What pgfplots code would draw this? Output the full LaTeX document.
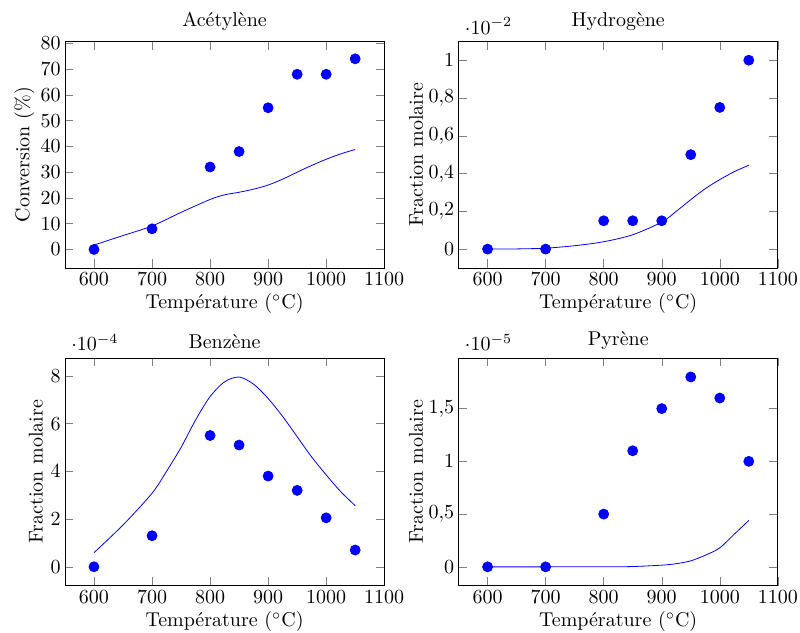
\documentclass[border=0pt]{standalone}
\usepackage{pgfplots}
\pgfplotsset{compat=1.18}
\usepgfplotslibrary{groupplots}
\begin{document}
\begin{tikzpicture}
\begin{groupplot}[
  group style={group size=2 by 2, horizontal sep=37.2pt, vertical sep=45pt},
  scale only axis, width=159.7pt, height=113.4pt,
  xmin=550, xmax=1100, xtick={600,700,...,1100},
  xlabel={Température ($^\circ$C)},
  /pgf/number format/use comma,
  x tick label style={/pgf/number format/1000 sep={}, inner xsep=1.1pt, yshift=1pt},
  y tick label style={inner xsep=2pt},
  every axis x label/.style={at={([yshift=-20.5pt]axis description cs:0.5,0)}, anchor=base, inner ysep=0.2pt},
  every axis y label/.style={at={([xshift=-17.8pt]axis description cs:0,0.5)}, rotate=90, anchor=base, inner ysep=7.2pt},
  every axis title/.style={at={([yshift=7.3pt]axis description cs:0.5,1)}, anchor=base, inner ysep=6.2pt},
]
\nextgroupplot[title={Acétylène}, ylabel={Conversion (\%)}, ymin=-7.2, ymax=80.8, ytick={0,10,...,80}]
\addplot[blue, smooth] coordinates {(600,1.7) (650,5.4) (700,9.1) (750,14.4) (800,19.4) (825,21.2) (850,22.2) (875,23.4) (900,25) (925,27.3) (950,30) (975,32.6) (1000,35) (1025,37.1) (1050,38.8)};
\addplot[only marks, mark=*, mark size=2.5pt, blue] coordinates {(600,0) (700,8) (800,32) (850,38) (900,55) (950,68) (1000,68) (1050,74)};
\nextgroupplot[title={Hydrogène}, ylabel={Fraction molaire}, ymin=-0.001, ymax=0.011, ytick={0,0.002,...,0.0101}, scaled y ticks=base 10:2]
\addplot[blue, smooth] coordinates {(600,0) (650,0.00001) (700,0.00005) (750,0.00018) (800,0.00039) (850,0.00076) (900,0.00143) (925,0.002) (950,0.00262) (975,0.0032) (1000,0.00368) (1025,0.0041) (1050,0.00444)};
\addplot[only marks, mark=*, mark size=2.5pt, blue] coordinates {(600,0) (700,0) (800,0.0015) (850,0.0015) (900,0.0015) (950,0.005) (1000,0.0075) (1050,0.01)};
\nextgroupplot[title={Benzène}, ylabel={Fraction molaire}, ymin=-0.8e-4, ymax=8.75e-4, ytick={0,2e-4,4e-4,6e-4,8e-4}, scaled y ticks=base 10:4,
  height=114pt,
  title style={at={([yshift=4.7pt]axis description cs:0.5,1)}},
  ylabel style={at={([xshift=-11.2pt]axis description cs:0,0.5)}}]
\addplot[blue, smooth] coordinates {(600,0.59e-4) (650,1.75e-4) (700,3.08e-4) (725,4.0e-4) (750,5.0e-4) (775,6.15e-4) (800,7.13e-4) (825,7.75e-4) (850,7.95e-4) (875,7.65e-4) (900,7.05e-4) (925,6.3e-4) (950,5.45e-4) (975,4.6e-4) (1000,3.85e-4) (1025,3.15e-4) (1050,2.56e-4)};
\addplot[only marks, mark=*, mark size=2.5pt, blue] coordinates {(600,0) (700,1.3e-4) (800,5.5e-4) (850,5.1e-4) (900,3.8e-4) (950,3.2e-4) (1000,2.05e-4) (1050,0.7e-4)};
\nextgroupplot[title={Pyrène}, ylabel={Fraction molaire}, ymin=-0.18e-5, ymax=1.98e-5, ytick={0,0.5e-5,1e-5,1.5e-5}, scaled y ticks=base 10:5,
  height=114pt,
  title style={at={([yshift=6.2pt]axis description cs:0.5,1)}}]
\addplot[blue, smooth] coordinates {(600,0) (700,0) (800,0.0005e-5) (850,0.003e-5) (900,0.016e-5) (925,0.03e-5) (950,0.057e-5) (975,0.11e-5) (1000,0.18e-5) (1025,0.31e-5) (1050,0.44e-5)};
\addplot[only marks, mark=*, mark size=2.5pt, blue] coordinates {(600,0) (700,0) (800,0.5e-5) (850,1.1e-5) (900,1.5e-5) (950,1.8e-5) (1000,1.6e-5) (1050,1.0e-5)};
\end{groupplot}
\end{tikzpicture}
\end{document}
